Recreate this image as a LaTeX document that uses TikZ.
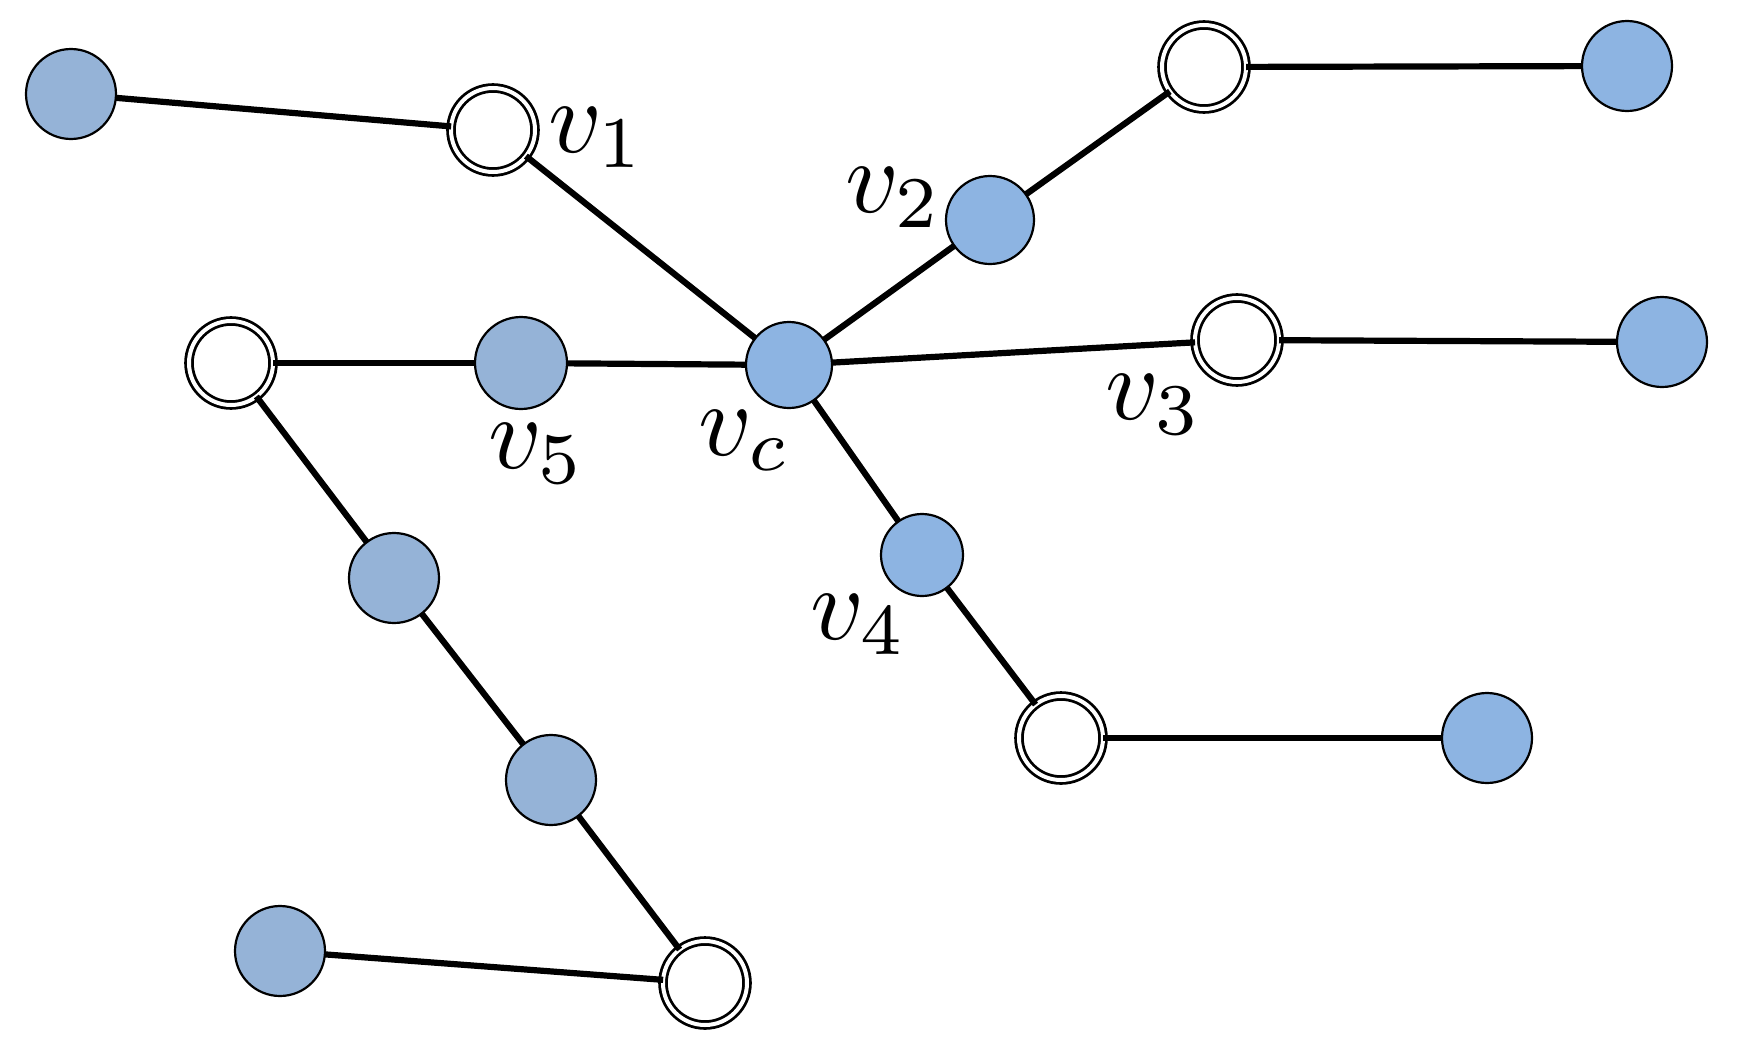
\documentclass[tikz,border=0pt]{standalone}
\begin{document}
\begin{tikzpicture}[x=1pt,y=-1pt,
  blue/.style={circle,draw=black,line width=2.2pt,fill=nodeblue,inner sep=0pt,outer sep=0pt,minimum size=90pt},
  grey/.style={blue,fill=nodegrey},
  hollow/.style={circle,draw=black,fill=white,double=white,double distance=4pt,line width=2.8pt,inner sep=0pt,outer sep=0pt,minimum size=84pt},
  edge/.style={line width=6.2pt,black},
  lbl/.style={anchor=base west,inner sep=0pt,scale=10.4}]
\definecolor{nodeblue}{HTML}{8DB4E2}
\definecolor{nodegrey}{HTML}{95B3D7}
\useasboundingbox (0,0) rectangle (1738,1055);
\node[grey] (A) at (71,94) {};
\node[hollow] (v1) at (493,130) {};
\node[hollow] (T1) at (1204,67) {};
\node[blue] (T2) at (1627,66) {};
\node[blue,minimum size=88pt] (v2) at (990,220) {};
\node[blue,minimum size=86pt] (vc) at (789,365) {};
\node[hollow] (v3) at (1237,340) {};
\node[blue] (R3) at (1662,342) {};
\node[hollow] (L5) at (231,363) {};
\node[grey,minimum size=92pt] (v5) at (521,363) {};
\node[blue,minimum size=82pt] (v4) at (922,555) {};
\node[hollow] (D4) at (1061,738) {};
\node[blue] (D4R) at (1487,738) {};
\node[grey] (M1) at (394,578) {};
\node[grey] (M2) at (551,780) {};
\node[hollow] (B) at (705,983) {};
\node[grey] (BL) at (280,951) {};
\draw[edge] (A) -- (v1);
\draw[edge] (v1) -- (vc);
\draw[edge] (vc) -- (v2);
\draw[edge] (v2) -- (T1);
\draw[edge] (T1) -- (T2);
\draw[edge] (vc) -- (v3);
\draw[edge] (v3) -- (R3);
\draw[edge] (vc) -- (v5);
\draw[edge] (v5) -- (L5);
\draw[edge] (L5) -- (M1);
\draw[edge] (M1) -- (M2);
\draw[edge] (M2) -- (B);
\draw[edge] (B) -- (BL);
\draw[edge] (vc) -- (v4);
\draw[edge] (v4) -- (D4);
\draw[edge] (D4) -- (D4R);
\node[lbl] (l1) at (546,152) {$v_1$};
\node[lbl] (l2) at (843,212) {$v_2$};
\node[lbl] (lc) at (696,455) {$v_c$};
\node[lbl] (l3) at (1103,419) {$v_3$};
\node[lbl] (l4) at (808,639) {$v_4$};
\node[lbl] (l5) at (486,468) {$v_5$};
\end{tikzpicture}
\end{document}
